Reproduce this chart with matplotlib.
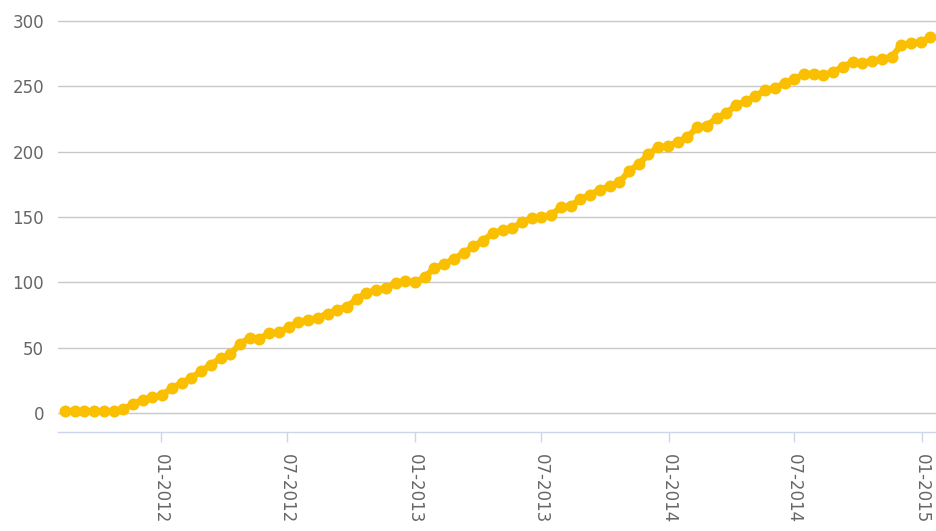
import pandas as pd
import matplotlib
matplotlib.use("Agg")
import matplotlib.pyplot as plt
import matplotlib.dates as mdates

# cumulative count, one reading every two weeks
start_date = "2011-08-16"
counts = [
    1.5, 1.5, 1.5, 1.5, 1.5, 1.5, 3, 7, 10, 12,
    14, 19, 23, 27, 32, 37, 42, 45, 53, 57.5,
    57, 61, 62, 65.5, 70, 71, 73, 76, 79, 81.5,
    87, 92, 94, 95.5, 99.5, 101, 100, 104, 111, 114,
    118, 122.5, 127.5, 132, 137.5, 140, 141.5, 146, 149, 150,
    151.5, 157.5, 158.5, 163.5, 167, 171, 173.5, 176.5, 185, 190.5,
    198, 203.5, 204, 207.5, 211, 218.5, 220, 225.5, 229.5, 235.5,
    238.5, 242.5, 247, 248.5, 252.5, 255.5, 259.5, 259.5, 258.5, 261,
    265, 268.5, 268, 269.5, 271, 272.5, 281.5, 283, 284, 287.5,
]
dates = pd.date_range(start_date, periods=len(counts), freq="14D")
y_ticks = [0, 50, 100, 150, 200, 250, 300]

grid_color = "#c8c8c8"
axis_color = "#ccd6eb"
label_color = "#666666"
dot_color = "#f9bf00"

fig = plt.figure(figsize=(9.36, 5.31), dpi=100)
ax = fig.add_axes([58 / 936, 1 - 432 / 531, 1 - 58 / 936, (432 - 10) / 531])

ax.plot(dates, counts, color=dot_color, lw=4.5, marker="o", ms=8.6,
        markeredgewidth=0, zorder=3)

ax.set_ylim(-14.5, 308.4)
ax.set_xlim(pd.Timestamp("2011-08-06"), pd.Timestamp("2015-01-21"))
ax.set_yticks(y_ticks)
ax.yaxis.grid(True, color=grid_color, lw=1)
ax.set_axisbelow(True)

ax.xaxis.set_major_locator(mdates.MonthLocator(bymonth=[1, 7]))
ax.xaxis.set_major_formatter(mdates.DateFormatter("%m-%Y"))

for side in ["left", "right", "top"]:
    ax.spines[side].set_visible(False)
ax.spines["bottom"].set_color(axis_color)
ax.spines["bottom"].set_linewidth(1)

ax.tick_params(axis="y", length=0, pad=10, labelsize=12, labelcolor=label_color)
ax.tick_params(axis="x", length=7, width=1, color=axis_color, pad=9,
               labelsize=12, labelcolor=label_color)
for lbl in ax.get_xticklabels():
    lbl.set_rotation(-90)
    lbl.set_va("top")
    lbl.set_ha("center")

fig.savefig("out.png", dpi=100)
